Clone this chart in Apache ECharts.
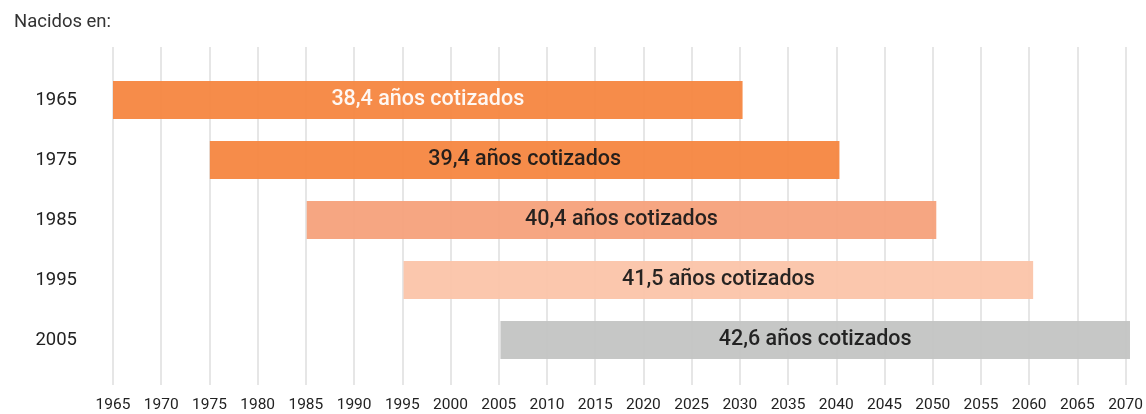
<!DOCTYPE html>
<html>
<head>
<meta charset="utf-8">
<script src="https://cdn.jsdelivr.net/npm/echarts@6/dist/echarts.min.js"></script>
<style>
  html, body { margin: 0; padding: 0; background: #fff; }
  #chart { width: 1146px; height: 414px; }
</style>
</head>
<body>
<div id="chart"></div>
<script>
// datos
const cohorts = ["1965", "1975", "1985", "1995", "2005"];
const startYear = [1965, 1975, 1985, 1995, 2005];
const endYear = [2030, 2040, 2050, 2060, 2070];
const barLabels = [
  "38,4 años cotizados",
  "39,4 años cotizados",
  "40,4 años cotizados",
  "41,5 años cotizados",
  "42,6 años cotizados"
];
const barColors = ["#f5853f", "#f5853f", "#f5a07a", "#fbc4a8", "#c2c3c2"];
const labelColors = ["#ffffff", "#1a1a1a", "#1a1a1a", "#1a1a1a", "#1a1a1a"];

const chart = echarts.init(document.getElementById("chart"));

chart.setOption({
  animation: false,
  textStyle: { fontFamily: "Roboto" },
  title: {
    text: "Nacidos en:",
    left: 9,
    top: 8,
    textStyle: { fontSize: 18.5, fontWeight: "normal", color: "#333", fontFamily: "Roboto" }
  },
  grid: [
    // rejilla de fondo (lineas verticales y eje x)
    { left: 113, right: 16, top: 47, bottom: 29 },
    // barras
    { left: 113, right: 16, top: 70, height: 300 }
  ],
  xAxis: [
    {
      gridIndex: 0,
      type: "value",
      min: 1965,
      max: 2070,
      interval: 5,
      axisLine: { show: false },
      axisTick: { show: false },
      splitLine: { show: true, lineStyle: { color: "#e6e6e6", width: 2 } },
      axisLabel: { color: "#222", fontSize: 15.5, margin: 12, formatter: v => String(v) }
    },
    {
      gridIndex: 1,
      type: "value",
      min: 1965,
      max: 2070,
      show: false,
      splitLine: { show: false }
    }
  ],
  yAxis: [
    {
      gridIndex: 0,
      type: "value",
      show: false,
      splitLine: { show: false }
    },
    {
      gridIndex: 1,
      type: "category",
      inverse: true,
      data: cohorts,
      axisLine: { show: false },
      axisTick: { show: false },
      axisLabel: { color: "#222", fontSize: 18.5, margin: 36 }
    }
  ],
  series: [
    {
      type: "bar",
      xAxisIndex: 1,
      yAxisIndex: 1,
      stack: "periodo",
      barWidth: 38,
      itemStyle: { color: "transparent" },
      data: startYear
    },
    {
      type: "bar",
      xAxisIndex: 1,
      yAxisIndex: 1,
      stack: "periodo",
      barWidth: 38,
      data: endYear.map((e, i) => ({
        value: e - startYear[i],
        itemStyle: { color: barColors[i], opacity: 0.94 },
        label: { color: labelColors[i] }
      })),
      label: {
        show: true,
        position: "inside",
        fontSize: 21.5,
        fontWeight: 500,
        fontFamily: "Roboto",
        formatter: p => barLabels[p.dataIndex]
      }
    }
  ]
});
</script>
</body>
</html>
